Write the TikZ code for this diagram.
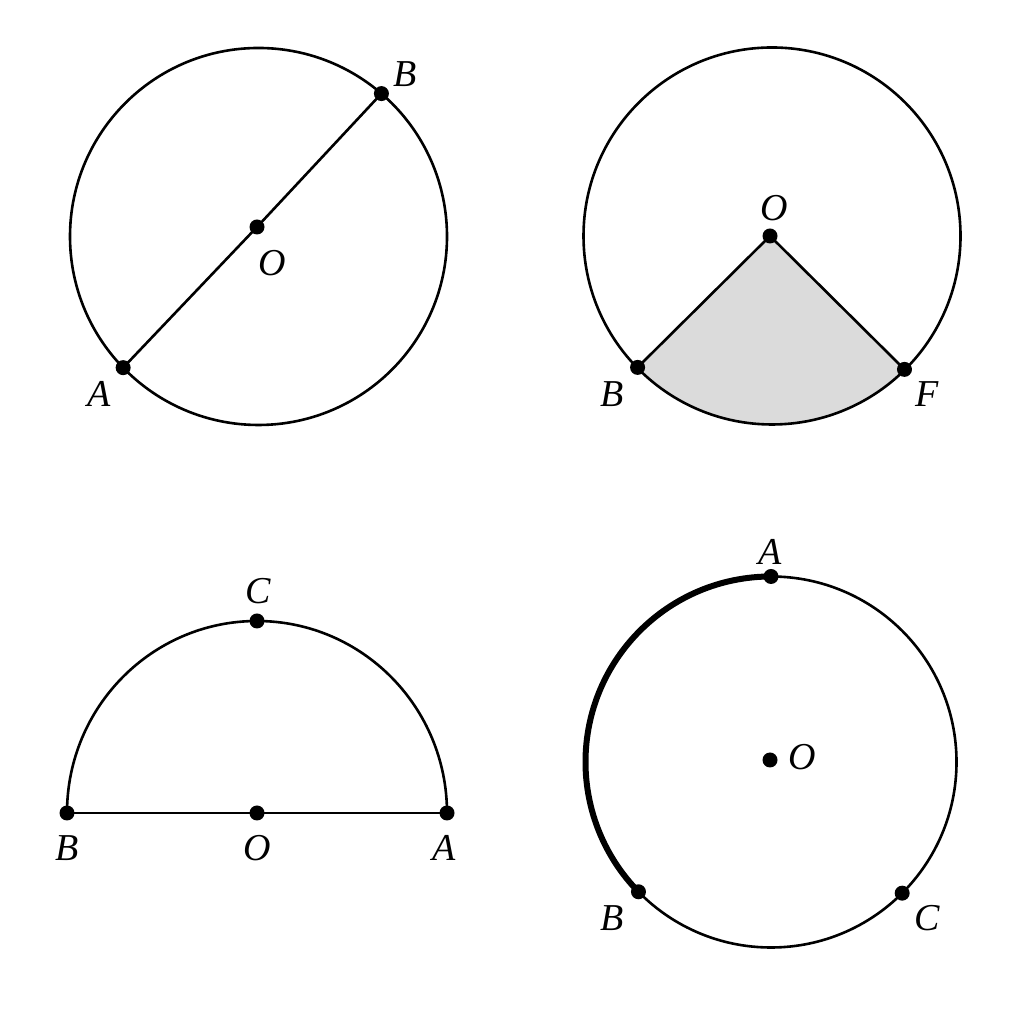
\documentclass[tikz,border=0pt]{standalone}
\usepackage{fontspec}
\setmainfont{Liberation Serif}
\usetikzlibrary{calc}
\begin{document}
\begin{tikzpicture}[x=1pt,y=1pt,
  dot/.style={circle,fill=black,inner sep=0pt,minimum size=15pt},
  lbl/.style={font=\fontsize{38}{40}\selectfont\itshape,inner sep=0pt},
  geo/.style={line width=2.6pt},
  bold/.style={line width=6pt}]
\useasboundingbox[fill=white] (0,0) rectangle (1024,1024);
% ---------- Panel 1 ----------
\coordinate (c1) at (258.5,787.5);
\coordinate (o1) at (257,797);
\coordinate (a1) at ($(c1)+(224.1:188.5)$);
\coordinate (b1) at ($(c1)+(49.3:188.5)$);
\draw[geo] (c1) circle[radius=188.5];
\draw[geo] (a1) -- (o1) -- (b1);
\node[dot] (A1) at (a1) {};
\node[dot] (B1) at (b1) {};
\node[dot] (O1) at (o1) {};
\node[lbl] (lA1) at (99,630) {A};
\node[lbl] (lB1) at (405,950) {B};
\node[lbl] (lO1) at (272,761) {O};
% ---------- Panel 2 ----------
\coordinate (c2) at (772,788);
\coordinate (o2) at (770,788);
\coordinate (b2) at ($(c2)+(224.35:188)$);
\coordinate (f2) at ($(c2)+(314.8:188)$);
\fill[gray!28] (o2) -- (b2) arc[start angle=224.35,end angle=314.8,radius=188] -- cycle;
\draw[geo] (c2) circle[radius=188.5];
\draw[geo] (b2) -- (o2) -- (f2);
\node[dot] (O2) at (o2) {};
\node[dot] (B2) at (b2) {};
\node[dot] (F2) at (f2) {};
\node[lbl] (lO2) at (774,816) {O};
\node[lbl] (lB2) at (612,630) {B};
\node[lbl] (lF2) at (927,630) {F};
% ---------- Panel 3 ----------
\coordinate (o3) at (257,211);
\coordinate (b3) at (67,211);
\coordinate (a3) at (447,211);
\coordinate (c3) at (257,403);
\draw[geo] (a3) arc[start angle=0,end angle=180,x radius=190,y radius=192];
\draw[geo] (b3) -- (a3);
\node[dot] (B3) at (b3) {};
\node[dot] (O3) at (o3) {};
\node[dot] (A3) at (a3) {};
\node[dot] (C3) at (c3) {};
\node[lbl] (lC3) at (258,433) {C};
\node[lbl] (lB3) at (67,176) {B};
\node[lbl] (lO3) at (257,176) {O};
\node[lbl] (lA3) at (444,176) {A};
% ---------- Panel 4 ----------
\coordinate (c4) at (771,262);
\coordinate (o4) at (770,264);
\coordinate (a4) at ($(c4)+(90:185.5)$);
\coordinate (b4) at ($(c4)+(224.4:185.5)$);
\coordinate (cc4) at ($(c4)+(315:185.5)$);
\draw[geo] (c4) circle[radius=185.5];
\draw[bold] (a4) arc[start angle=90,end angle=224.4,radius=185.5];
\node[dot] (A4) at (a4) {};
\node[dot] (B4) at (b4) {};
\node[dot] (C4) at (cc4) {};
\node[dot] (O4) at (o4) {};
\node[lbl] (lA4) at (770,472) {A};
\node[lbl] (lO4) at (802,267) {O};
\node[lbl] (lB4) at (612,106) {B};
\node[lbl] (lC4) at (927,106) {C};
\end{tikzpicture}
\end{document}
